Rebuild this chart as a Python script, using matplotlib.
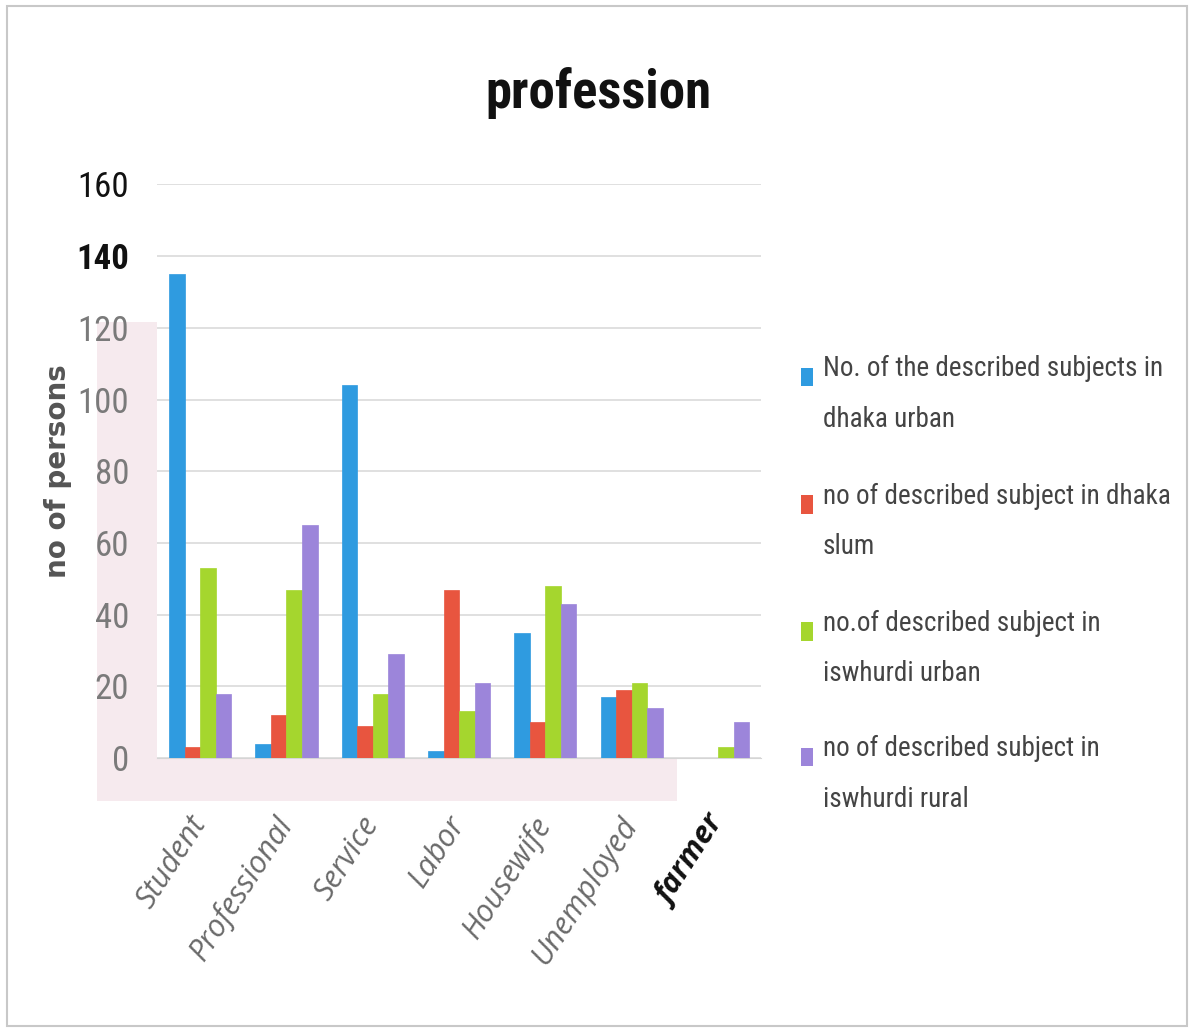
import numpy as np
import matplotlib
matplotlib.use("Agg")
from matplotlib import pyplot as plt
from matplotlib import patches as patches
from matplotlib import font_manager

professions = ['Student', 'Professional', 'Service', 'Labor', 'Housewife', 'Unemployed', 'farmer']

dhaka_urban = [135, 4, 104, 2, 35, 17, 0]
dhaka_slum = [3, 12, 9, 47, 10, 19, 0]
iswhurdi_urban = [53, 47, 18, 13, 48, 21, 3]
iswhurdi_rural = [18, 65, 29, 21, 43, 14, 10]

series_labels = ['No. of the described subjects in\ndhaka urban',
                 'no of described subject in dhaka\nslum',
                 'no.of described subject in\niswhurdi urban',
                 'no of described subject in\niswhurdi rural']
y_ticks = [0, 20, 40, 60, 80, 100, 120, 140, 160]

colors = ['#2f9be0', '#e8553f', '#a5d62e', '#9c85da']

names = {f.name for f in font_manager.fontManager.ttflist}
narrow = 'Lato'
for cand in ['Liberation Sans Narrow', 'Roboto Condensed', 'Open Sans Condensed']:
    if cand in names:
        narrow = cand
        break

fig = plt.figure(figsize=(11.94, 10.30), dpi=100)
fig.patches.append(patches.Rectangle((0.006, 0.004), 0.988, 0.99, transform=fig.transFigure,
                                     fill=False, edgecolor='#c8c8c8', linewidth=1.5))

ax = fig.add_axes([0.1315, 0.264, 0.506, 0.557])

# faint pink haze along the left and bottom of the plot area
haze = '#f6eaee'
ax.add_patch(patches.Rectangle((-0.1, 0), 0.1, 0.76, transform=ax.transAxes, clip_on=False,
                               facecolor=haze, edgecolor='none', zorder=0))
ax.add_patch(patches.Rectangle((-0.1, -0.075), 0.96, 0.075, transform=ax.transAxes, clip_on=False,
                               facecolor=haze, edgecolor='none', zorder=0))

x = np.arange(len(professions))
width = 0.18
all_series = [dhaka_urban, dhaka_slum, iswhurdi_urban, iswhurdi_rural]
for i, vals in enumerate(all_series):
    ax.bar(x + (i - 1.5) * width, vals, width, color=colors[i], edgecolor=colors[i],
           linewidth=0.5, zorder=3)

ax.set_xlim(-0.5, len(professions) - 0.5)
ax.set_ylim(0, 160)
ax.set_yticks(y_ticks)
ax.yaxis.grid(True, color='#dadada', linewidth=1.2, zorder=1)
ax.set_axisbelow(True)
for s in ['top', 'right', 'left']:
    ax.spines[s].set_visible(False)
ax.spines['bottom'].set_color('#d5d5d5')
ax.tick_params(axis='y', length=0, pad=20)

ax.set_yticklabels([str(t) for t in y_ticks], fontfamily=narrow, fontsize=25)
for lbl, t in zip(ax.get_yticklabels(), y_ticks):
    lbl.set_color('#111111' if t >= 140 else '#7a7a7a')
    if t == 140:
        lbl.set_fontweight('bold')

ax.set_xticks(x)
ax.set_xticklabels(professions, rotation=57, ha='right', va='center', rotation_mode='anchor',
                   fontsize=22, style='italic', color='#6a6a6a', fontfamily='Open Sans')
ax.tick_params(axis='x', length=0, pad=44)
farmer_lbl = ax.get_xticklabels()[-1]
farmer_lbl.set_color('#111111')
farmer_lbl.set_fontweight('bold')

ax.set_ylabel('no of persons', fontsize=20, fontweight='bold', color='#555555',
              fontfamily='DejaVu Sans', labelpad=3)

fig.text(0.501, 0.91, 'profession', ha='center', va='center', fontsize=38,
         fontweight='bold', fontfamily=narrow, color='#111111')

# legend: square key beside the first line of each two-line label
leg_first = [0.634, 0.51, 0.387, 0.265]
for i, lab in enumerate(series_labels):
    fig.patches.append(patches.Rectangle((0.671, leg_first[i] - 0.009), 0.010, 0.018,
                                         transform=fig.transFigure, facecolor=colors[i],
                                         edgecolor='none'))
    fig.text(0.689, leg_first[i] + 0.021, lab, ha='left', va='top', fontsize=19.5,
             fontfamily=narrow, color='#444444', linespacing=2.1)

fig.savefig('out.png', dpi=100)
